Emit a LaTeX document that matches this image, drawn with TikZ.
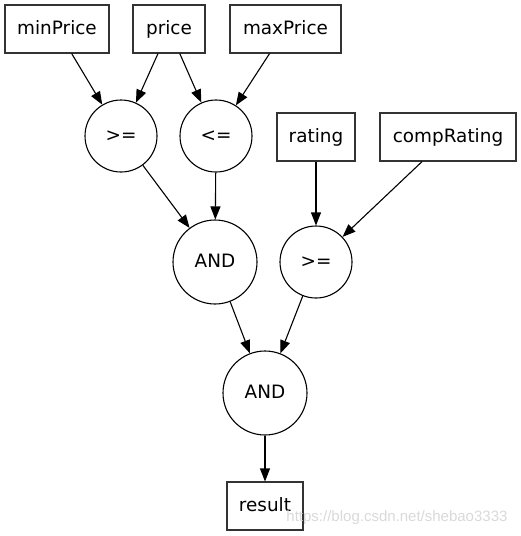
\documentclass[tikz,border=0pt]{standalone}
\usepackage{fontspec}
\setmainfont{DejaVu Sans}
\newfontfamily\wmfont{Liberation Sans}
\usetikzlibrary{arrows.meta}
\begin{document}
\begin{tikzpicture}[x=1pt,y=-1pt,
  font=\fontsize{18.4}{22}\selectfont,
  box/.style={draw=black!80,line width=1.1pt,rectangle,minimum height=48pt,inner sep=0pt,text height=14pt,text depth=4pt},
  op/.style={draw,line width=1.1pt,circle,inner sep=0pt,text height=14pt,text depth=4pt},
  edge/.style={line width=1.1pt,-{Triangle[length=13pt,width=10pt]}}]
\useasboundingbox (0,0) rectangle (521,536);
\node[box,minimum width=104pt] (minp) at (57,29) {minPrice};
\node[box,minimum width=72pt] (price) at (169,29) {price};
\node[box,minimum width=111pt] (maxp) at (285.5,29) {maxPrice};
\node[op,minimum size=72pt] (ge1) at (121,136) {>=};
\node[op,minimum size=72pt] (le) at (216,136) {<=};
\node[box,minimum width=78pt] (rating) at (316,137) {rating};
\node[box,minimum width=136pt] (comp) at (448,137) {compRating};
\node[op,minimum size=84pt] (and1) at (215,262) {AND};
\node[op,minimum size=72pt] (ge2) at (316,262) {>=};
\node[op,minimum size=84pt] (and2) at (265,393) {AND};
\node[box,minimum width=76pt] (res) at (265,506) {result};
\draw[edge] (minp) -- (ge1);
\draw[edge] (price) -- (ge1);
\draw[edge] (price) -- (le);
\draw[edge] (maxp) -- (le);
\draw[edge] (ge1) -- (and1);
\draw[edge] (le) -- (and1);
\draw[edge] (rating) -- (ge2);
\draw[edge] (comp) -- (ge2);
\draw[edge] (and1) -- (and2);
\draw[edge] (ge2) -- (and2);
\draw[edge] (and2) -- (res);
\node[text=black!15,font=\wmfont\fontsize{15}{17}\selectfont,anchor=east] (wm) at (511,518) {https://blog.csdn.net/shebao3333};
\end{tikzpicture}
\end{document}
